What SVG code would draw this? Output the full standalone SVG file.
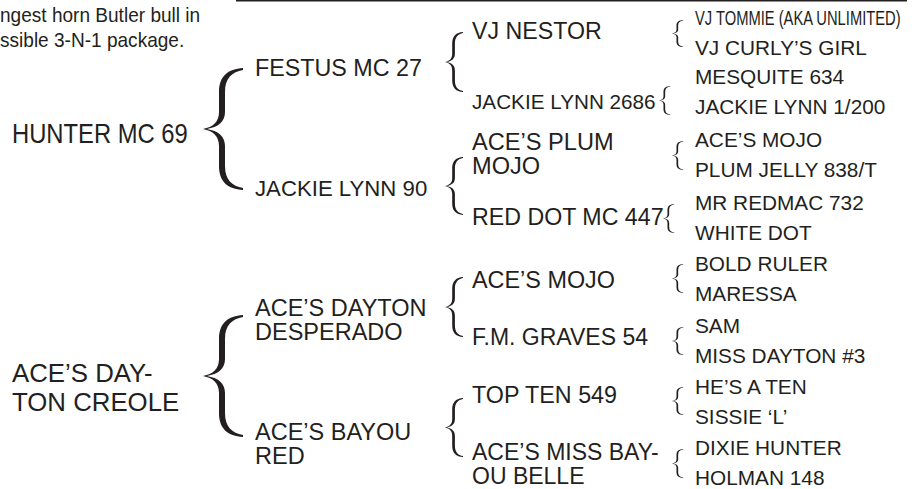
<svg xmlns="http://www.w3.org/2000/svg" width="920" height="489" viewBox="0 0 920 489">
<style>
text{font-family:"Liberation Sans",Arial,Helvetica,sans-serif;fill:#231f20}
.note{font-size:20.5px}
.r{font-size:20.8px}
.brace{fill:#231f20}
</style>
<defs>
<path id="brace" d="M40,0 C25,1 16,8 16,24 L16,44 C16,54 10,59 0,61 C10,63 16,68 16,78 L16,98 C16,114 25,121 40,122 L40,120 C29,118 22,112 22,98 L22,78 C22,68 15,63 4,61 C15,59 22,54 22,44 L22,24 C22,10 29,4 40,2 Z"/>
</defs>
<rect x="236" y="0" width="671" height="1.5" fill="#231f20"/>
<g id="note">
<text class="note" transform="translate(0,22.3) scale(0.93,1)">ngest horn Butler bull in</text>
<text class="note" transform="translate(0,46.7) scale(0.93,1)">ssible 3-N-1 package.</text>
</g>
<g id="connectors" class="brace">
<use href="#brace" transform="translate(203,68)"/>
<use href="#brace" transform="translate(203,315)"/>
<use href="#brace" transform="translate(445,32) scale(0.45,0.492)"/>
<use href="#brace" transform="translate(445,157) scale(0.45,0.475)"/>
<use href="#brace" transform="translate(445,277) scale(0.45,0.492)"/>
<use href="#brace" transform="translate(445,398) scale(0.45,0.484)"/>
<use href="#brace" transform="translate(672,20) scale(0.28,0.222)"/>
<use href="#brace" transform="translate(659,86) scale(0.28,0.238)"/>
<use href="#brace" transform="translate(672,141) scale(0.28,0.238)"/>
<use href="#brace" transform="translate(663,204) scale(0.28,0.238)"/>
<use href="#brace" transform="translate(672,264) scale(0.28,0.238)"/>
<use href="#brace" transform="translate(672,327) scale(0.28,0.23)"/>
<use href="#brace" transform="translate(672,387) scale(0.28,0.23)"/>
<use href="#brace" transform="translate(672,449) scale(0.28,0.238)"/>
</g>
<g id="hunter-mc-69"><text transform="translate(12,143) scale(0.85,1)" style="font-size:28px">HUNTER MC 69</text></g>
<g id="aces-dayton-creole"><text x="12" y="381.5" style="font-size:25.8px">ACE’S DAY-</text><text x="12" y="410.5" style="font-size:25.8px">TON CREOLE</text></g>
<g id="festus-mc-27"><text x="255" y="76" style="font-size:23.3px">FESTUS MC 27</text></g>
<g id="jackie-lynn-90"><text x="255" y="196" style="font-size:22.2px">JACKIE LYNN 90</text></g>
<g id="aces-dayton-desperado"><text x="255" y="316" style="font-size:23.5px">ACE’S DAYTON</text><text x="255" y="340" style="font-size:23.5px">DESPERADO</text></g>
<g id="aces-bayou-red"><text x="255" y="440" style="font-size:23.5px">ACE’S BAYOU</text><text x="255" y="464" style="font-size:23.5px">RED</text></g>
<g id="vj-nestor"><text x="472" y="39" style="font-size:23.2px">VJ NESTOR</text></g>
<g id="jackie-lynn-2686"><text x="472" y="109" style="font-size:20.7px">JACKIE LYNN 2686</text></g>
<g id="aces-plum-mojo"><text x="472" y="150" style="font-size:23.6px">ACE’S PLUM</text><text x="472" y="174" style="font-size:23.6px">MOJO</text></g>
<g id="red-dot-mc-447"><text x="472" y="225" style="font-size:23.2px">RED DOT MC 447</text></g>
<g id="aces-mojo"><text x="472" y="288" style="font-size:23.4px">ACE’S MOJO</text></g>
<g id="fm-graves-54"><text x="472" y="345" style="font-size:23px">F.M. GRAVES 54</text></g>
<g id="top-ten-549"><text x="472" y="403" style="font-size:23.3px">TOP TEN 549</text></g>
<g id="aces-miss-bayou-belle"><text x="472" y="460" style="font-size:23px">ACE’S MISS BAY-</text><text x="472" y="484" style="font-size:23px">OU BELLE</text></g>
<g id="vj-tommie"><text class="r" transform="translate(695,25) scale(0.708,1)">VJ TOMMIE (AKA UNLIMITED)</text></g>
<g id="vj-curlys-girl"><text class="r" x="695" y="55">VJ CURLY’S GIRL</text></g>
<g id="mesquite-634"><text class="r" x="695" y="83.5">MESQUITE 634</text></g>
<g id="jackie-lynn-1-200"><text class="r" x="695" y="113.5">JACKIE LYNN 1/200</text></g>
<g id="aces-mojo-2"><text class="r" x="695" y="147">ACE’S MOJO</text></g>
<g id="plum-jelly"><text class="r" x="695" y="177">PLUM JELLY 838/T</text></g>
<g id="mr-redmac-732"><text class="r" x="695" y="209.5">MR REDMAC 732</text></g>
<g id="white-dot"><text class="r" x="695" y="240">WHITE DOT</text></g>
<g id="bold-ruler"><text class="r" x="695" y="271">BOLD RULER</text></g>
<g id="maressa"><text class="r" x="695" y="301">MARESSA</text></g>
<g id="sam"><text class="r" x="695" y="332.5">SAM</text></g>
<g id="miss-dayton-3"><text class="r" x="695" y="362.5">MISS DAYTON #3</text></g>
<g id="hes-a-ten"><text class="r" x="695" y="393.5">HE’S A TEN</text></g>
<g id="sissie-l"><text class="r" x="695" y="423.5">SISSIE ‘L’</text></g>
<g id="dixie-hunter"><text class="r" x="695" y="455">DIXIE HUNTER</text></g>
<g id="holman-148"><text class="r" x="695" y="484.5">HOLMAN 148</text></g>
</svg>
